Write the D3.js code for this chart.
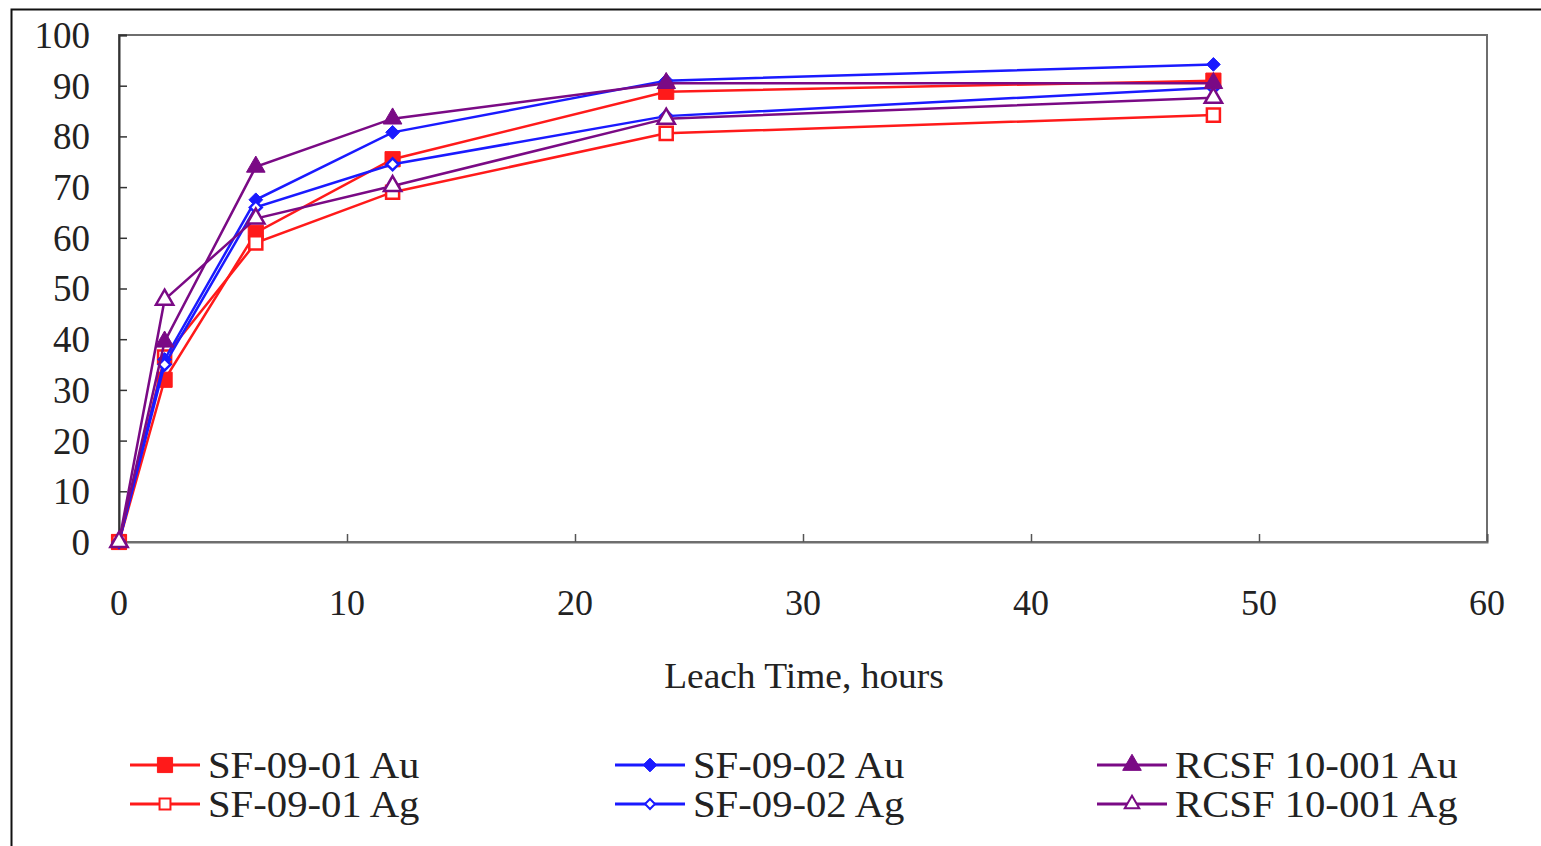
<!DOCTYPE html>
<html>
<head>
<meta charset="utf-8">
<script src="https://cdn.jsdelivr.net/npm/d3@7"></script>
<style>
  body { margin: 0; background: #fff; }
  svg text { font-family: "Liberation Serif", "DejaVu Serif", serif; fill: #222; }
</style>
</head>
<body>
<div id="chart"></div>
<script>
// Leach time (hours)
var hours = [0, 2, 6, 12, 24, 48];
// Recovery, %
var sf01Au = [0, 32, 61, 75.5, 88.8, 91];
var sf01Ag = [0, 36.5, 59, 69, 80.6, 84.2];
var sf02Au = [0, 36, 67.5, 80.8, 91, 94.2];
var sf02Ag = [0, 35, 66, 74.5, 84, 89.6];
var rcsfAu = [0, 39.5, 74, 83.5, 90.5, 90.5];
var rcsfAg = [0, 47.8, 63.8, 70.2, 83.5, 87.6];
var xTicks = [0, 10, 20, 30, 40, 50, 60];
var yTicks = [0, 10, 20, 30, 40, 50, 60, 70, 80, 90, 100];

var diamond = d3.symbolDiamond2 || d3.symbolDiamond;
var series = [
  { name: "SF-09-01 Au", values: sf01Au, color: "#ff1a1a", shape: d3.symbolSquare, size: 230, open: false },
  { name: "SF-09-01 Ag", values: sf01Ag, color: "#ff1a1a", shape: d3.symbolSquare, size: 170, open: true },
  { name: "SF-09-02 Au", values: sf02Au, color: "#1a1aff", shape: diamond, size: 120, open: false },
  { name: "SF-09-02 Ag", values: sf02Ag, color: "#1a1aff", shape: diamond, size: 90, open: true },
  { name: "RCSF 10-001 Au", values: rcsfAu, color: "#7a0a85", shape: d3.symbolTriangle, size: 150, open: false },
  { name: "RCSF 10-001 Ag", values: rcsfAg, color: "#7a0a85", shape: d3.symbolTriangle, size: 130, open: true }
];

var W = 1541, H = 846;
var svg = d3.select("#chart").append("svg").attr("width", W).attr("height", H);

// outer frame (top and left edges visible)
svg.append("path").attr("d", "M11.5," + H + "V9.5H" + W)
  .attr("fill", "none").attr("stroke", "#111").attr("stroke-width", 2);

var plotL = 119, plotR = 1487, plotT = 35, plotB = 542;
var x = d3.scaleLinear().domain([0, 60]).range([plotL, plotR]);
var y = d3.scaleLinear().domain([0, 100]).range([plotB, plotT]);

// plot frame
svg.append("rect").attr("x", plotL).attr("y", plotT).attr("width", plotR - plotL).attr("height", plotB - plotT)
  .attr("fill", "none").attr("stroke", "#6e6e6e").attr("stroke-width", 2);

// y axis
var yAxis = svg.append("g").attr("transform", "translate(" + plotL + ",0)")
  .call(d3.axisRight(y).tickValues(yTicks).tickSize(8).tickFormat(""));
yAxis.select(".domain").attr("stroke", "#333").attr("stroke-width", 2);
yAxis.selectAll(".tick line").attr("stroke", "#333").attr("stroke-width", 1.5);
svg.append("g").selectAll("text").data(yTicks).enter().append("text")
  .attr("x", 90).attr("y", function(d) { return y(d); }).attr("dy", "0.35em")
  .attr("text-anchor", "end").style("font-size", "37px").text(function(d) { return d; });

// x axis
var xAxis = svg.append("g").attr("transform", "translate(0," + plotB + ")")
  .call(d3.axisTop(x).tickValues(xTicks).tickSize(8).tickFormat(""));
xAxis.select(".domain").attr("stroke", "#6e6e6e").attr("stroke-width", 2);
xAxis.selectAll(".tick line").attr("stroke", "#555").attr("stroke-width", 1.5);
svg.append("g").selectAll("text").data(xTicks).enter().append("text")
  .attr("x", function(d) { return x(d); }).attr("y", 615)
  .attr("text-anchor", "middle").style("font-size", "36px").text(function(d) { return d; });

svg.append("text").attr("transform", "translate(804,688) scale(1.07,1)").attr("text-anchor", "middle")
  .style("font-size", "35px").text("Leach Time, hours");

// lines + markers
var line = d3.line().x(function(d, i) { return x(hours[i]); }).y(function(d) { return y(d); });
series.forEach(function(s) {
  var g = svg.append("g");
  g.append("path").datum(s.values).attr("d", line).attr("fill", "none")
    .attr("stroke", s.color).attr("stroke-width", 2.5);
  g.selectAll("path.m").data(s.values).enter().append("path").attr("class", "m")
    .attr("d", d3.symbol().type(s.shape).size(s.size))
    .attr("transform", function(d, i) { return "translate(" + x(hours[i]) + "," + y(d) + ")"; })
    .attr("fill", s.open ? "#fff" : s.color)
    .attr("stroke", s.color).attr("stroke-width", s.open ? 2.5 : 1);
});

// legend
var legCols = [130, 615, 1097];
var legRows = [765, 804];
series.forEach(function(s, i) {
  var lx = legCols[Math.floor(i / 2)], ly = legRows[i % 2];
  var g = svg.append("g").attr("transform", "translate(" + lx + "," + ly + ")");
  g.append("line").attr("x1", 0).attr("x2", 70).attr("stroke", s.color).attr("stroke-width", 3);
  g.append("path").attr("d", d3.symbol().type(s.shape).size(s.open ? s.size * 0.7 : s.size))
    .attr("transform", "translate(35,0)")
    .attr("fill", s.open ? "#fff" : s.color).attr("stroke", s.color).attr("stroke-width", s.open ? 2 : 1);
  g.append("text").attr("transform", "translate(78,0) scale(1.1,1)").attr("dy", "0.35em")
    .style("font-size", "37px").text(s.name);
});
</script>
</body>
</html>
